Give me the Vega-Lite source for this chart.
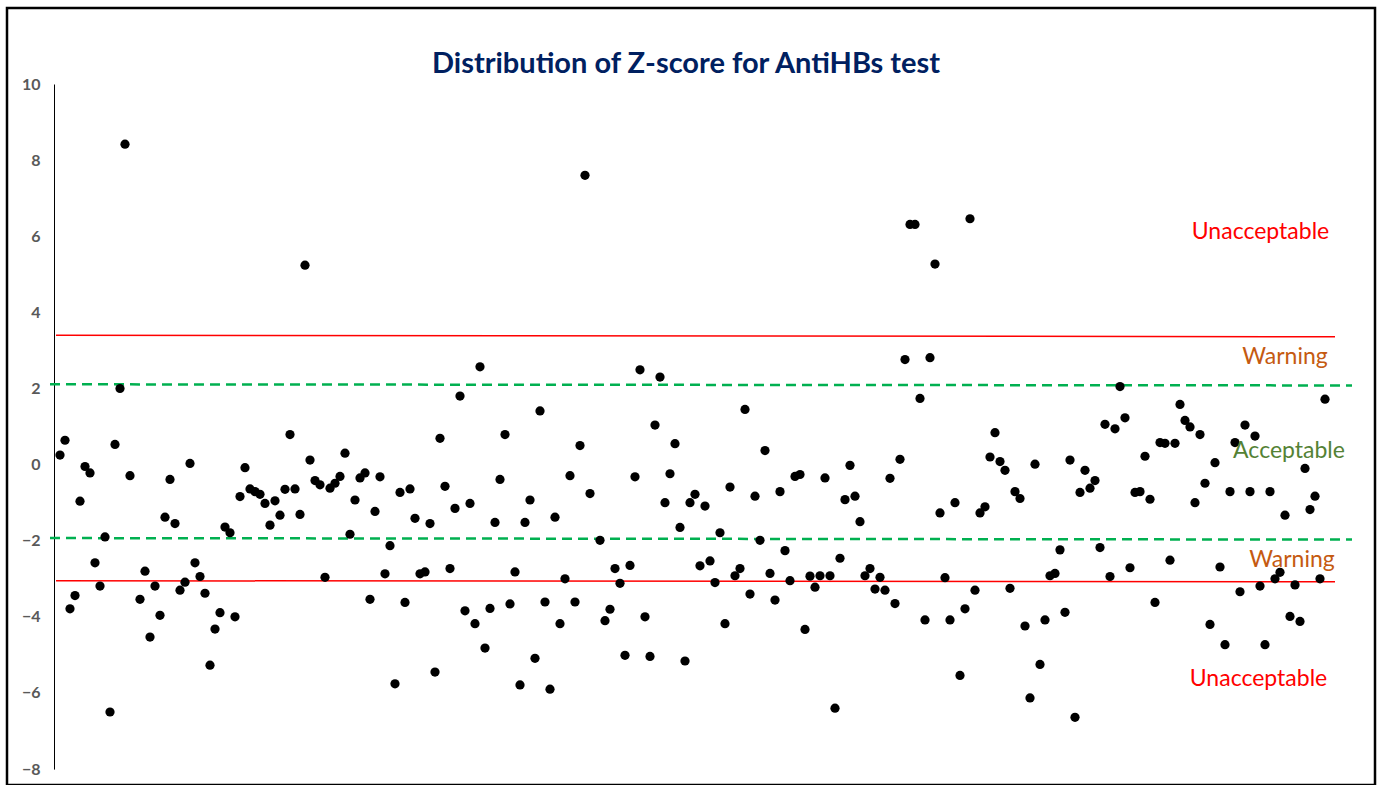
{
  "$schema": "https://vega.github.io/schema/vega-lite/v6.json",
  "width": 1368,
  "height": 777,
  "autosize": {"type": "none"},
  "padding": {"left": 7, "top": 8, "right": 4, "bottom": 0},
  "background": "white",
  "config": {"view": {"stroke": "#000000", "strokeWidth": 2.5}, "font": "Lato"},
  "title": {
    "text": "Distribution of Z-score for AntiHBs test",
    "font": "Lato",
    "fontSize": 29,
    "fontWeight": "bold",
    "color": "#002060",
    "anchor": "middle",
    "frame": "group",
    "baseline": "alphabetic",
    "offset": 0,
    "dy": 94,
    "dx": -5
  },
  "datasets": {
    "pts": [
      {"i":0,"z":0.25},{"i":1,"z":0.64},{"i":2,"z":-3.79},{"i":3,"z":-3.44},{"i":4,"z":-0.96},{"i":5,"z":-0.05},{"i":6,"z":-0.22},{"i":7,"z":-2.58},{"i":8,"z":-3.19},{"i":9,"z":-1.9},
      {"i":10,"z":-6.5},{"i":11,"z":0.53},{"i":12,"z":2.0},{"i":13,"z":8.42},{"i":14,"z":-0.29},{"i":16,"z":-3.54},{"i":17,"z":-2.8},{"i":18,"z":-4.53},{"i":19,"z":-3.19},
      {"i":20,"z":-3.96},{"i":21,"z":-1.38},{"i":22,"z":-0.39},{"i":23,"z":-1.55},{"i":24,"z":-3.3},{"i":25,"z":-3.09},{"i":26,"z":0.03},{"i":27,"z":-2.58},{"i":28,"z":-2.94},{"i":29,"z":-3.38},
      {"i":30,"z":-5.27},{"i":31,"z":-4.32},{"i":32,"z":-3.89},{"i":33,"z":-1.64},{"i":34,"z":-1.79},{"i":35,"z":-4.0},{"i":36,"z":-0.84},{"i":37,"z":-0.08},{"i":38,"z":-0.64},{"i":39,"z":-0.71},
      {"i":40,"z":-0.78},{"i":41,"z":-1.02},{"i":42,"z":-1.59},{"i":43,"z":-0.95},{"i":44,"z":-1.33},{"i":45,"z":-0.65},{"i":46,"z":0.79},{"i":47,"z":-0.64},{"i":48,"z":-1.31},{"i":49,"z":5.24},
      {"i":50,"z":0.12},{"i":51,"z":-0.42},{"i":52,"z":-0.53},{"i":53,"z":-2.96},{"i":54,"z":-0.62},{"i":55,"z":-0.49},{"i":56,"z":-0.31},{"i":57,"z":0.3},{"i":58,"z":-1.83},{"i":59,"z":-0.93},
      {"i":60,"z":-0.35},{"i":61,"z":-0.22},{"i":62,"z":-3.54},{"i":63,"z":-1.23},{"i":64,"z":-0.32},{"i":65,"z":-2.87},{"i":66,"z":-2.13},{"i":67,"z":-5.76},{"i":68,"z":-0.73},{"i":69,"z":-3.62},
      {"i":70,"z":-0.64},{"i":71,"z":-1.41},{"i":72,"z":-2.87},{"i":73,"z":-2.82},{"i":74,"z":-1.55},{"i":75,"z":-5.45},{"i":76,"z":0.69},{"i":77,"z":-0.57},{"i":78,"z":-2.73},{"i":79,"z":-1.15},
      {"i":80,"z":1.8},{"i":81,"z":-3.84},{"i":82,"z":-1.02},{"i":83,"z":-4.18},{"i":84,"z":2.57},{"i":85,"z":-4.82},{"i":86,"z":-3.78},{"i":87,"z":-1.52},{"i":88,"z":-0.39},{"i":89,"z":0.79},
      {"i":90,"z":-3.66},{"i":91,"z":-2.82},{"i":92,"z":-5.79},{"i":93,"z":-1.52},{"i":94,"z":-0.93},{"i":95,"z":-5.09},{"i":96,"z":1.41},{"i":97,"z":-3.61},{"i":98,"z":-5.9},{"i":99,"z":-1.38},
      {"i":100,"z":-4.18},{"i":101,"z":-3.0},{"i":102,"z":-0.29},{"i":103,"z":-3.61},{"i":104,"z":0.5},{"i":105,"z":7.6},{"i":106,"z":-0.76},{"i":108,"z":-1.99},{"i":109,"z":-4.1},
      {"i":110,"z":-3.8},{"i":111,"z":-2.73},{"i":112,"z":-3.12},{"i":113,"z":-5.01},{"i":114,"z":-2.65},{"i":115,"z":-0.32},{"i":116,"z":2.49},{"i":117,"z":-4.0},{"i":118,"z":-5.04},{"i":119,"z":1.04},
      {"i":120,"z":2.3},{"i":121,"z":-1.0},{"i":122,"z":-0.24},{"i":123,"z":0.55},{"i":124,"z":-1.65},{"i":125,"z":-5.16},{"i":126,"z":-1.0},{"i":127,"z":-0.78},{"i":128,"z":-2.66},{"i":129,"z":-1.09},
      {"i":130,"z":-2.53},{"i":131,"z":-3.1},{"i":132,"z":-1.79},{"i":133,"z":-4.18},{"i":134,"z":-0.59},{"i":135,"z":-2.92},{"i":136,"z":-2.73},{"i":137,"z":1.45},{"i":138,"z":-3.4},{"i":139,"z":-0.83},
      {"i":140,"z":-1.99},{"i":141,"z":0.37},{"i":142,"z":-2.86},{"i":143,"z":-3.56},{"i":144,"z":-0.71},{"i":145,"z":-2.26},{"i":146,"z":-3.05},{"i":147,"z":-0.31},{"i":148,"z":-0.26},{"i":149,"z":-4.33},
      {"i":150,"z":-2.93},{"i":151,"z":-3.22},{"i":152,"z":-2.92},{"i":153,"z":-0.35},{"i":154,"z":-2.92},{"i":155,"z":-6.4},{"i":156,"z":-2.46},{"i":157,"z":-0.92},{"i":158,"z":-0.02},{"i":159,"z":-0.83},
      {"i":160,"z":-1.5},{"i":161,"z":-2.92},{"i":162,"z":-2.73},{"i":163,"z":-3.27},{"i":164,"z":-2.96},{"i":165,"z":-3.3},{"i":166,"z":-0.36},{"i":167,"z":-3.65},{"i":168,"z":0.14},{"i":169,"z":2.76},
      {"i":170,"z":6.31},{"i":171,"z":6.31},{"i":172,"z":1.74},{"i":173,"z":-4.08},{"i":174,"z":2.81},{"i":175,"z":5.27},{"i":176,"z":-1.27},{"i":177,"z":-2.97},{"i":178,"z":-4.08},{"i":179,"z":-1.0},
      {"i":180,"z":-5.54},{"i":181,"z":-3.79},{"i":182,"z":6.46},{"i":183,"z":-3.3},{"i":184,"z":-1.27},{"i":185,"z":-1.11},{"i":186,"z":0.2},{"i":187,"z":0.84},{"i":188,"z":0.08},{"i":189,"z":-0.15},
      {"i":190,"z":-3.25},{"i":191,"z":-0.71},{"i":192,"z":-0.89},{"i":193,"z":-4.24},{"i":194,"z":-6.13},{"i":195,"z":0.01},{"i":196,"z":-5.25},{"i":197,"z":-4.08},{"i":198,"z":-2.92},{"i":199,"z":-2.86},
      {"i":200,"z":-2.24},{"i":201,"z":-3.88},{"i":202,"z":0.12},{"i":203,"z":-6.64},{"i":204,"z":-0.73},{"i":205,"z":-0.15},{"i":206,"z":-0.62},{"i":207,"z":-0.42},{"i":208,"z":-2.18},{"i":209,"z":1.06},
      {"i":210,"z":-2.94},{"i":211,"z":0.94},{"i":212,"z":2.05},{"i":213,"z":1.23},{"i":214,"z":-2.71},{"i":215,"z":-0.73},{"i":216,"z":-0.71},{"i":217,"z":0.22},{"i":218,"z":-0.91},{"i":219,"z":-3.62},
      {"i":220,"z":0.58},{"i":221,"z":0.56},{"i":222,"z":-2.51},{"i":223,"z":0.56},{"i":224,"z":1.58},{"i":225,"z":1.16},{"i":226,"z":0.99},{"i":227,"z":-1.0},{"i":228,"z":0.79},{"i":229,"z":-0.49},
      {"i":230,"z":-4.2},{"i":231,"z":0.05},{"i":232,"z":-2.69},{"i":233,"z":-4.73},{"i":234,"z":-0.71},{"i":235,"z":0.58},{"i":236,"z":-3.34},{"i":237,"z":1.04},{"i":238,"z":-0.71},{"i":239,"z":0.75},
      {"i":240,"z":-3.19},{"i":241,"z":-4.73},{"i":242,"z":-0.71},{"i":243,"z":-3.0},{"i":244,"z":-2.83},{"i":245,"z":-1.33},{"i":246,"z":-3.99},{"i":247,"z":-3.16},{"i":248,"z":-4.12},{"i":249,"z":-0.1},
      {"i":250,"z":-1.18},{"i":251,"z":-0.83},{"i":252,"z":-3.0},{"i":253,"z":1.72}
    ],
    "red": [
      {"lvl":"upper","i":-0.8,"z":3.4},{"lvl":"upper","i":255,"z":3.36},
      {"lvl":"lower","i":-0.8,"z":-3.05},{"lvl":"lower","i":255,"z":-3.08}
    ],
    "green": [
      {"lvl":"upper","i":-2,"z":2.11},{"lvl":"upper","i":258.4,"z":2.08},
      {"lvl":"lower","i":-2,"z":-1.93},{"lvl":"lower","i":258.4,"z":-1.97}
    ],
    "labels": [
      {"label":"Unacceptable","kind":"u","i":240.1,"z":6.11},
      {"label":"Warning","kind":"w","i":245,"z":2.84},
      {"label":"Acceptable","kind":"a","i":245.8,"z":0.35},
      {"label":"Warning","kind":"w","i":246.4,"z":-2.5},
      {"label":"Unacceptable","kind":"u","i":239.7,"z":-5.63}
    ]
  },
  "layer": [
    {
      "data": {"name": "red"},
      "mark": {"type": "line", "color": "#FF0000", "strokeWidth": 1.5},
      "encoding": {
        "x": {"field": "i", "type": "quantitative", "scale": {"domain": [-1.2, 255], "range": [47, 1328], "nice": false, "zero": false}, "axis": null},
        "y": {"field": "z", "type": "quantitative", "scale": {"domain": [-8, 10], "range": [761.1, 76], "nice": false, "zero": false},
              "axis": {"orient": "left", "offset": -47, "values": [-8,-6,-4,-2,0,2,4,6,8,10], "format": "d", "title": null, "grid": false, "ticks": false, "tickSize": 0, "domain": true, "domainColor": "#000000", "domainWidth": 1, "labelPadding": 14, "labelFont": "Lato", "labelFontSize": 16, "labelFontWeight": "bold", "labelColor": "#595959"}},
        "detail": {"field": "lvl"}
      }
    },
    {
      "data": {"name": "green"},
      "mark": {"type": "line", "color": "#00B050", "strokeWidth": 2.5, "strokeDash": [10, 6]},
      "encoding": {
        "x": {"field": "i", "type": "quantitative"},
        "y": {"field": "z", "type": "quantitative"},
        "detail": {"field": "lvl"}
      }
    },
    {
      "data": {"name": "pts"},
      "mark": {"type": "circle", "color": "#000000", "opacity": 1, "size": 85},
      "encoding": {
        "x": {"field": "i", "type": "quantitative"},
        "y": {"field": "z", "type": "quantitative"}
      }
    },
    {
      "data": {"name": "labels"},
      "mark": {"type": "text", "font": "Lato", "fontSize": 23, "align": "center", "baseline": "middle"},
      "encoding": {
        "x": {"field": "i", "type": "quantitative"},
        "y": {"field": "z", "type": "quantitative"},
        "text": {"field": "label"},
        "color": {"field": "kind", "type": "nominal", "scale": {"domain": ["u","w","a"], "range": ["#FF0000","#C55A11","#548235"]}, "legend": null}
      }
    }
  ]
}
